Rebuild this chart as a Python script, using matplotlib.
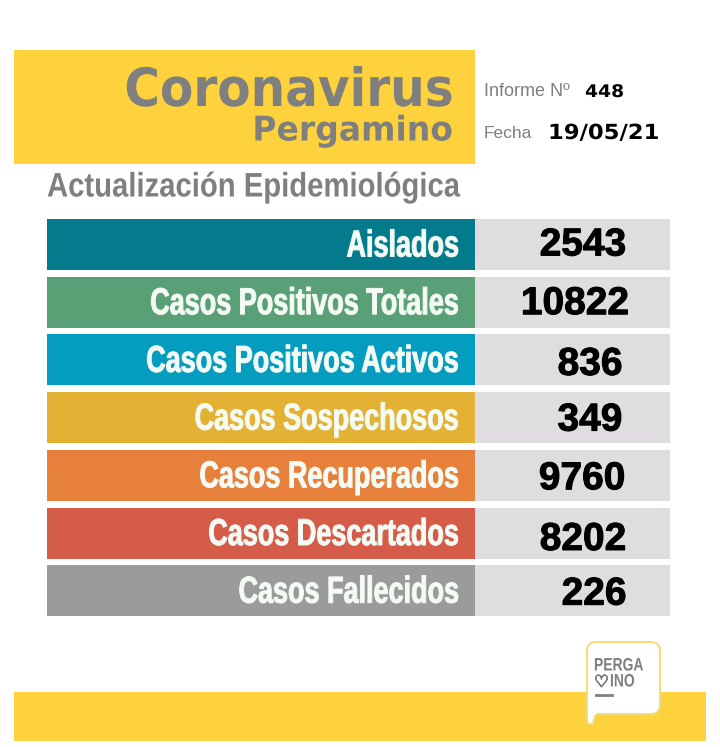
import matplotlib
matplotlib.use("Agg")
import matplotlib.pyplot as plt
import matplotlib.patheffects as pe
from matplotlib.patches import FancyBboxPatch, Polygon, Rectangle
from matplotlib.transforms import Affine2D

categories = ["Aislados", "Casos Positivos Totales", "Casos Positivos Activos",
              "Casos Sospechosos", "Casos Recuperados", "Casos Descartados",
              "Casos Fallecidos"]
values = [2543, 10822, 836, 349, 9760, 8202, 226]
bar_colors = ["#047b8c", "#5aa077", "#049dbf", "#e3b234", "#e6803a", "#d55c49", "#9b9b9b"]
value_x = [583, 575, 590, 590, 582, 583, 594]
value_dy = [1, 2, 5, 3, 4, 7, 4]  # the numbers are not quite centred in the source
informe = "448"
fecha = "19/05/21"

yellow = "#fed23c"
grey_text = "#7f7f7f"
cell = "#dfdde0"


# no condensed font installed, so squeeze the glyphs sideways around the anchor
class Squeeze(pe.AbstractPathEffect):
    def __init__(self, sx, x0, stroke=0):
        super().__init__()
        self.sx = sx
        self.x0 = x0
        self.stroke = stroke

    def draw_path(self, renderer, gc, tpath, affine, rgbFace=None):
        t = affine + Affine2D().translate(-self.x0, 0).scale(self.sx, 1).translate(self.x0, 0)
        if self.stroke:
            gc0 = renderer.new_gc()
            gc0.copy_properties(gc)
            gc0.set_foreground(rgbFace)
            gc0.set_linewidth(self.stroke)
            renderer.draw_path(gc0, tpath, t, rgbFace)
            gc0.restore()
        else:
            renderer.draw_path(gc, tpath, t, rgbFace)


fig = plt.figure(figsize=(7.2, 7.47), dpi=100)
ax = fig.add_axes([0, 0, 1, 1])
ax.set_xlim(0, 720)
ax.set_ylim(747, 0)
ax.axis("off")

# header
ax.add_patch(Rectangle((14, 50), 461, 114, color=yellow, lw=0))
ax.text(453, 91, "Coronavirus", ha="right", va="center", fontsize=38, fontweight="bold",
        color=grey_text, family="DejaVu Sans", path_effects=[Squeeze(0.92, 453)])
ax.text(453, 131, "Pergamino", ha="right", va="center", fontsize=24.5, fontweight="bold",
        color=grey_text, family="DejaVu Sans", path_effects=[Squeeze(0.97, 453)])
ax.text(47, 188, "Actualización Epidemiológica", ha="left", va="center", fontsize=24.5,
        fontweight="bold", color=grey_text, family="Liberation Sans",
        path_effects=[Squeeze(0.86, 47)])
ax.text(484, 92, "Informe Nº", ha="left", va="center", fontsize=13, color=grey_text,
        family="Liberation Sans")
ax.text(585, 92, informe, ha="left", va="center", fontsize=12.5, fontweight="bold",
        color="black", family="DejaVu Sans", path_effects=[Squeeze(1.08, 585)])
ax.text(484, 133, "Fecha", ha="left", va="center", fontsize=12.5, color=grey_text,
        family="Liberation Sans")
ax.text(548, 133, fecha, ha="left", va="center", fontsize=15, fontweight="bold",
        color="black", family="DejaVu Sans", path_effects=[Squeeze(1.09, 548)])

# rows
rows = [244.5 + 57.7 * i for i in range(len(categories))]
ax.barh(rows, [428] * len(rows), left=47, height=51, color=bar_colors)
ax.barh(rows, [195] * len(rows), left=475, height=51, color=cell)
for y, name, val, vx, dy in zip(rows, categories, values, value_x, value_dy):
    ax.text(459, y + 2, name, ha="right", va="center", fontsize=27, fontweight="bold",
            color="#f4fbf4", family="Liberation Sans",
            path_effects=[Squeeze(0.72, 459, stroke=0.7)])
    ax.text(vx, y + dy, str(val), ha="center", va="center", fontsize=28, fontweight="bold",
            color="black", family="Liberation Sans",
            path_effects=[pe.withStroke(linewidth=0.7, foreground="black")])

# footer and logo
ax.add_patch(Rectangle((14, 692), 692, 49, color=yellow, lw=0))
ax.add_patch(Polygon([[587, 700], [587, 722], [589, 724], [593, 724], [596, 712]], closed=True,
                     fc="white", ec="#f3dc7a", lw=1.5, zorder=3))
ax.add_patch(FancyBboxPatch((587, 642), 73, 72, boxstyle="round,pad=0,rounding_size=9",
                            fc="white", ec="#f3dc7a", lw=1.5, zorder=3))
ax.add_patch(Rectangle((588, 708), 8, 7, color="white", lw=0, zorder=3))
ax.text(594, 666, "PERGA", ha="left", va="center", fontsize=13, fontweight="bold",
        color=grey_text, family="Liberation Sans", zorder=4, path_effects=[Squeeze(0.77, 594)])
ax.text(594, 682, "♡", ha="left", va="center", fontsize=12, fontweight="bold",
        color=grey_text, family="DejaVu Sans", zorder=4,
        path_effects=[pe.withStroke(linewidth=0.8, foreground=grey_text)])
ax.text(610, 682, "INO", ha="left", va="center", fontsize=13, fontweight="bold",
        color=grey_text, family="Liberation Sans", zorder=4, path_effects=[Squeeze(0.77, 610)])
ax.plot([596, 612], [695, 695], color=grey_text, lw=2, zorder=4)

fig.savefig("out.png", dpi=100)
